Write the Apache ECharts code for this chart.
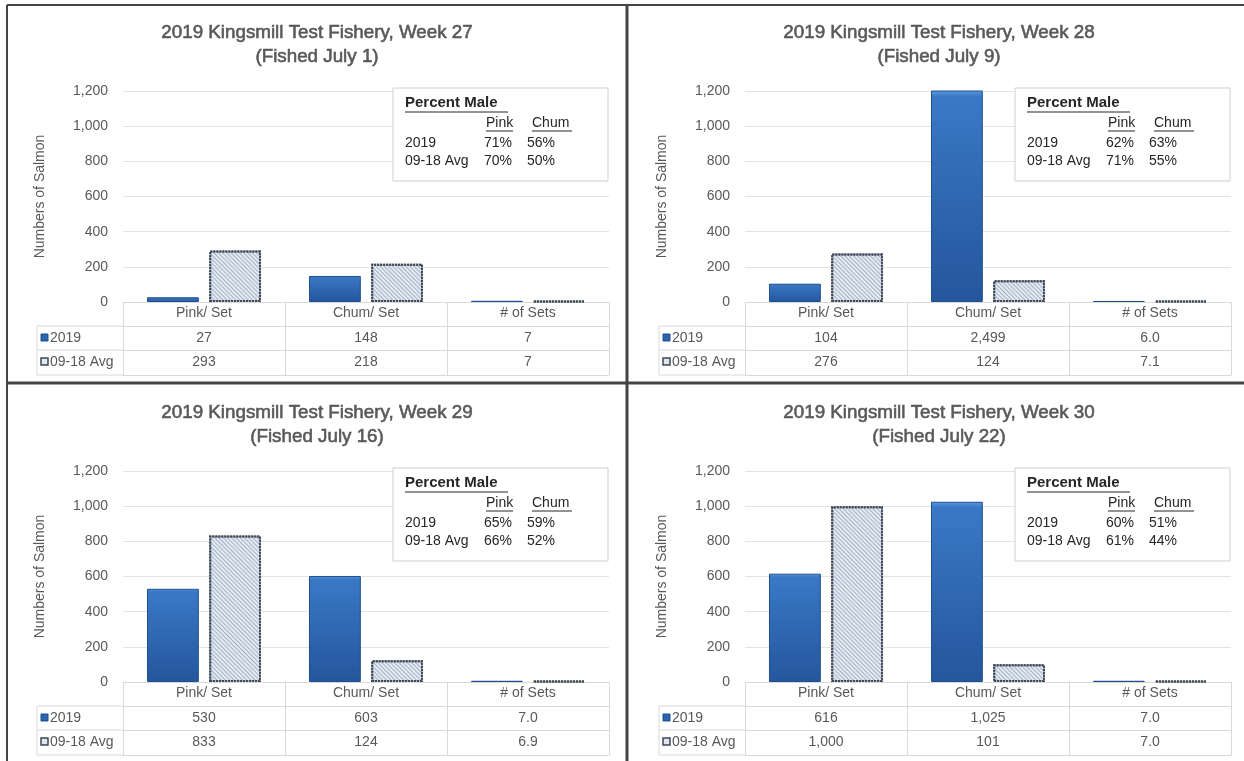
<!DOCTYPE html>
<html><head><meta charset="utf-8">
<script src="https://cdn.jsdelivr.net/npm/echarts@6/dist/echarts.min.js"></script>
<style>html,body{margin:0;padding:0;background:#fff}#c{width:1244px;height:761px}</style>
</head><body><div id="c"></div>
<script>
// ---- data ----
const categories = ['Pink/ Set', 'Chum/ Set', '# of Sets'];
const seriesNames = ['2019', '09-18 Avg'];
const weeks = [27, 28, 29, 30];
const fishedDates = ['July 1', 'July 9', 'July 16', 'July 22'];
const values2019 = [[27, 148, 7], [104, 2499, 6.0], [530, 603, 7.0], [616, 1025, 7.0]];
const valuesAvg = [[293, 218, 7], [276, 124, 7.1], [833, 124, 6.9], [1000, 101, 7.0]];
const setsDecimals = [0, 1, 1, 1];
const pctPink2019 = [71, 62, 65, 60];
const pctChum2019 = [56, 63, 59, 51];
const pctPinkAvg = [70, 71, 66, 61];
const pctChumAvg = [50, 55, 52, 44];
const yMin = 0, yMax = 1200, yInterval = 200;

// ---- layout ----
const FONT = 'Liberation Sans';
const GRAY = '#595959';
const LINE = '#d9d9d9';
const offsets = [[0, 0], [622, 0], [0, 380], [622, 380]];
const G = { left: 123, top: 91, width: 486, height: 211 };
const ROW = [24, 24, 25];

function fmt(v, d) {
  return v.toLocaleString('en-US', { minimumFractionDigits: d, maximumFractionDigits: d });
}

const grid = [], xAxis = [], yAxis = [], series = [], graphic = [];

offsets.forEach(([ox, oy], i) => {
  grid.push({ left: ox + G.left, top: oy + G.top, width: G.width, height: G.height });
  const decs = [0, 0, setsDecimals[i]];
  const base = {
    type: 'category', gridIndex: i, position: 'bottom', data: categories,
    axisLine: { show: true, lineStyle: { color: LINE, width: 1 } },
    axisTick: { show: true, interval: 0, length: 24, lineStyle: { color: LINE } },
    axisLabel: { interval: 0, margin: 4, color: GRAY, fontSize: 14, fontFamily: FONT },
    splitLine: { show: false }
  };
  xAxis.push(Object.assign({}, base, { offset: 0 }));
  xAxis.push(Object.assign({}, base, {
    offset: ROW[0], axisLabel: Object.assign({}, base.axisLabel, { margin: 5,
      formatter: (v, idx) => fmt(values2019[i][idx], decs[idx]) })
  }));
  xAxis.push(Object.assign({}, base, {
    offset: ROW[0] + ROW[1], axisTick: Object.assign({}, base.axisTick, { length: ROW[2] }),
    axisLabel: Object.assign({}, base.axisLabel, { margin: 5,
      formatter: (v, idx) => fmt(valuesAvg[i][idx], decs[idx]) })
  }));
  xAxis.push(Object.assign({}, base, {
    offset: ROW[0] + ROW[1] + ROW[2], axisTick: { show: false }, axisLabel: { show: false }
  }));

  yAxis.push({
    type: 'value', gridIndex: i, min: yMin, max: yMax, interval: yInterval,
    name: 'Numbers of Salmon', nameLocation: 'middle', nameGap: 76,
    nameTextStyle: { color: GRAY, fontSize: 14, fontFamily: FONT },
    axisLine: { show: false }, axisTick: { show: false },
    axisLabel: { margin: 15, color: GRAY, fontSize: 14, fontFamily: FONT,
      formatter: v => fmt(v, 0) },
    splitLine: { lineStyle: { color: '#e4e4e4', width: 1 } }
  });

  series.push({
    name: seriesNames[0], type: 'bar', xAxisIndex: i * 4, yAxisIndex: i,
    data: values2019[i], barWidth: '32%', barGap: '20%', clip: true,
    itemStyle: {
      color: { type: 'linear', x: 0, y: 0, x2: 0, y2: 1,
        colorStops: [{ offset: 0, color: '#5a98e0' }, { offset: 0.03, color: '#3a78c6' }, { offset: 1, color: '#24569c' }] },
      borderColor: '#1f4f8f', borderWidth: 1
    }
  });
  series.push({
    name: seriesNames[1], type: 'bar', xAxisIndex: i * 4, yAxisIndex: i,
    data: valuesAvg[i], barWidth: '32%', barGap: '20%', clip: true,
    itemStyle: {
      color: '#e3eaf3', borderColor: '#3e4856', borderWidth: 2, borderType: [2, 1],
      decal: { symbol: 'rect', symbolSize: 1, dashArrayX: [1, 0], dashArrayY: [1, 2],
        rotation: Math.PI / 4, color: 'rgba(90,110,140,0.45)' }
    }
  });

  // titles
  const titleStyle = { fill: GRAY, stroke: GRAY, lineWidth: 0.6, fontSize: 18.8,
    fontFamily: FONT, align: 'center', verticalAlign: 'middle' };
  graphic.push({ type: 'text', x: ox + 317, y: oy + 33, z: 20,
    style: Object.assign({ text: '2019 Kingsmill Test Fishery, Week ' + weeks[i] }, titleStyle) });
  graphic.push({ type: 'text', x: ox + 317, y: oy + 57, z: 20,
    style: Object.assign({ text: '(Fished ' + fishedDates[i] + ')' }, titleStyle) });

  // percent male box
  graphic.push({ type: 'rect', z: 20, shape: { x: ox + 393, y: oy + 88, width: 215, height: 93 },
    style: { fill: '#fff', stroke: '#cfcfcf', lineWidth: 1 } });
  const t = (txt, x, y, opt) => graphic.push({ type: 'text', x: ox + x, y: oy + y, z: 21,
    style: Object.assign({ text: txt, fill: '#262626', fontSize: 14, fontFamily: FONT,
      align: 'left', verticalAlign: 'middle' }, opt || {}) });
  const ul = (x1, x2, y) => graphic.push({ type: 'line', z: 21,
    shape: { x1: ox + x1, y1: oy + y, x2: ox + x2, y2: oy + y }, style: { stroke: '#262626', lineWidth: 1 } });
  t('Percent Male', 405, 103, { fontWeight: 'bold', fontSize: 15 });
  ul(405, 508, 112);
  t('Pink', 486, 123); ul(486, 513, 131);
  t('Chum', 532, 123); ul(532, 572, 131);
  t('2019', 405, 143);
  t(pctPink2019[i] + '%', 512, 143, { align: 'right' });
  t(pctChum2019[i] + '%', 527, 143);
  t('09-18 Avg', 405, 161);
  t(pctPinkAvg[i] + '%', 512, 161, { align: 'right' });
  t(pctChumAvg[i] + '%', 527, 161);

  // table left column
  const tl = (x1, y1, x2, y2) => graphic.push({ type: 'line', z: 5,
    shape: { x1: ox + x1, y1: oy + y1, x2: ox + x2, y2: oy + y2 }, style: { stroke: LINE, lineWidth: 1 } });
  tl(37, 326, 123, 326); tl(37, 350, 123, 350); tl(37, 375, 123, 375); tl(37, 326, 37, 375);
  graphic.push({ type: 'rect', z: 6, shape: { x: ox + 41, y: oy + 334, width: 7, height: 7 },
    style: { fill: '#2c64ad', stroke: '#1f4f8f', lineWidth: 1 } });
  graphic.push({ type: 'rect', z: 6, shape: { x: ox + 41, y: oy + 358, width: 7, height: 7 },
    style: { fill: '#dfe7f1', stroke: '#3e4856', lineWidth: 1.5 } });
  graphic.push({ type: 'text', x: ox + 50, y: oy + 338, z: 6,
    style: { text: seriesNames[0], fill: GRAY, fontSize: 14, fontFamily: FONT, verticalAlign: 'middle' } });
  graphic.push({ type: 'text', x: ox + 50, y: oy + 362, z: 6,
    style: { text: seriesNames[1], fill: GRAY, fontSize: 14, fontFamily: FONT, verticalAlign: 'middle' } });
});

// frame & dividers
const frame = (x1, y1, x2, y2, w) => graphic.push({ type: 'line', z: 30,
  shape: { x1, y1, x2, y2 }, style: { stroke: '#444', lineWidth: w } });
frame(7, 5, 1244, 5, 2);
frame(7, 5, 7, 761, 2);
frame(627, 5, 627, 761, 3);
frame(7, 383, 1244, 383, 3);

const chart = echarts.init(document.getElementById('c'), null, { renderer: 'canvas' });
chart.setOption({
  animation: false,
  backgroundColor: '#fff',
  grid, xAxis, yAxis, series, graphic
});
</script></body></html>
